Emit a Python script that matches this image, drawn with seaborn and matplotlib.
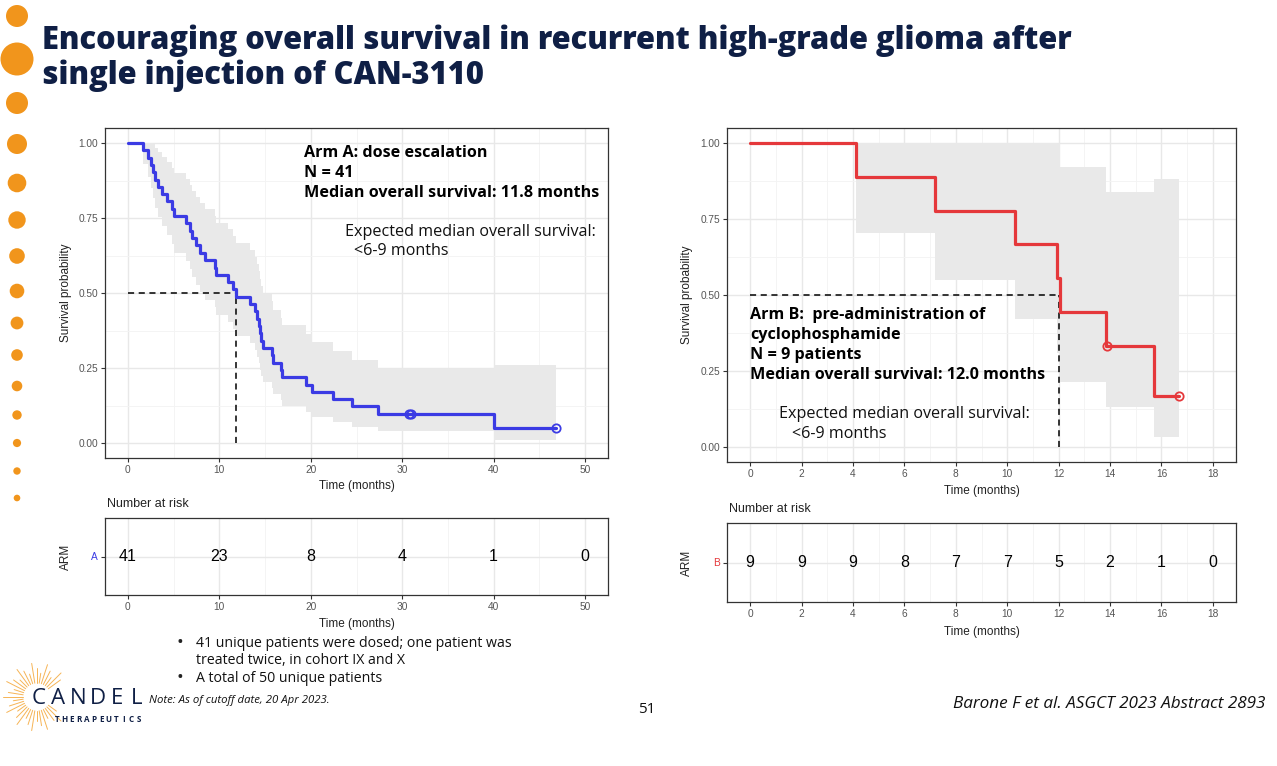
import matplotlib
matplotlib.use("Agg")
import matplotlib.pyplot as plt
import numpy as np
import pandas as pd
import seaborn as sns
from matplotlib.patches import Circle

# ---------------- data ----------------
arm_a_time = [0, 1.7, 2.2, 2.5, 2.8, 3.0, 3.3, 3.7, 4.3, 4.8,
              5.0, 6.4, 6.8, 7.0, 7.5, 7.9, 8.4, 9.5, 9.6, 10.9,
              11.5, 11.8, 13.4, 13.9, 14.1, 14.3, 14.4, 14.6, 14.8, 15.8,
              15.9, 16.7, 16.8, 19.5, 20.1, 22.4, 24.5, 27.3, 40.0, 46.8]
arm_a_surv = [1.000, .976, .951, .927, .902, .878, .854, .829, .805, .780,
              .756, .732, .707, .683, .659, .634, .610, .585, .561, .537,
              .512, .488, .463, .439, .415, .390, .366, .341, .317, .293,
              .268, .244, .220, .195, .171, .146, .122, .098, .049, .049]
arm_a_lower = [1.0, .930, .887, .850, .816, .783, .752, .722, .692, .664,
               .635, .608, .581, .554, .528, .503, .477, .452, .428, .404,
               .380, .357, .333, .311, .288, .266, .245, .223, .202, .182,
               .162, .142, .124, .105, .087, .070, .054, .039, .009, .009]
arm_a_upper = [1.0, 1.0, 1.0, 1.0, .998, .984, .969, .953, .936, .918,
               .900, .881, .861, .841, .821, .800, .779, .757, .735, .713,
               .690, .668, .644, .620, .597, .572, .548, .522, .497, .472,
               .444, .418, .392, .363, .336, .306, .277, .248, .260, .260]
arm_a_censor_time = [30.7, 31.0, 46.8]
arm_a_censor_surv = [.098, .098, .049]
arm_a_median = 11.8

arm_b_time = [0, 4.1, 7.2, 10.3, 11.95, 12.05, 13.85, 15.7, 16.7]
arm_b_surv = [1.0, .889, .778, .667, .556, .444, .333, .167, .167]
arm_b_lower = [1.0, .705, .549, .420, .310, .214, .132, .032, .032]
arm_b_upper = [1.0, 1.0, 1.0, 1.0, .997, .923, .840, .882, .882]
arm_b_censor_time = [13.9, 16.7]
arm_b_censor_surv = [.333, .167]
arm_b_median = 12.0

risk_a_time = [0, 10, 20, 30, 40, 50]
risk_a_n = [41, 23, 8, 4, 1, 0]
risk_b_time = [0, 2, 4, 6, 8, 10, 12, 14, 16, 18]
risk_b_n = [9, 9, 9, 8, 7, 7, 5, 2, 1, 0]

y_ticks = [0, 0.25, 0.5, 0.75, 1.0]
y_ticklabels = ["0.00", "0.25", "0.50", "0.75", "1.00"]

title_lines = ["Encouraging overall survival in recurrent high-grade glioma after",
               "single injection of CAN-3110"]
arm_a_text = ["Arm A: dose escalation", "N = 41", "Median overall survival: 11.8 months"]
arm_b_text = ["Arm B:  pre-administration of", "cyclophosphamide", "N = 9 patients",
              "Median overall survival: 12.0 months"]
expected_text = ["Expected median overall survival:", "<6-9 months"]
bullets = ["41 unique patients were dosed; one patient was", "treated twice, in cohort IX and X",
           "A total of 50 unique patients"]

# ---------------- style ----------------
sns.set_theme(style="white")
plt.rcParams['font.family'] = ['Liberation Sans', 'DejaVu Sans']

BLUE = "#3b3be4"
RED = "#e5383b"
BAND = "#e9e9e9"
NAVY = "#0f1f45"
ORANGE = "#f1951c"

W, H = 1277, 766
fig = plt.figure(figsize=(W / 100, H / 100), dpi=100)
fig.patch.set_facecolor("white")


def px_axes(l, t, r, b):
    return fig.add_axes([l / W, 1 - b / H, (r - l) / W, (b - t) / H])


def frame(ax):
    for s in ax.spines.values():
        s.set_visible(True)
        s.set_color("#333333")
        s.set_linewidth(0.9)
    ax.set_axisbelow(True)
    ax.grid(which="major", color="#e8e8e8", lw=1.0)
    ax.grid(which="minor", color="#f3f3f3", lw=0.6)
    ax.tick_params(which="major", length=3, width=0.8, color="#333333",
                   labelsize=7.3, labelcolor="#555555", pad=2)
    ax.tick_params(which="minor", length=0)
    ax.tick_params(axis="x", bottom=True)
    ax.tick_params(axis="y", left=True)


def km(ax, t, s, lo, hi, ct, cs, med, color, xmax, xstep):
    ax.fill_between(t, lo, hi, step="post", color=BAND, lw=0, zorder=1)
    df = pd.DataFrame({"time": t, "surv": s})
    sns.lineplot(data=df, x="time", y="surv", drawstyle="steps-post", estimator=None,
                 sort=False, color=color, lw=2.3, ax=ax, zorder=3)
    ax.plot(ct, cs, linestyle="none", marker="o", ms=6, mfc="none", mec=color, mew=1.3, zorder=4)
    ax.plot([0, med], [0.5, 0.5], color="black", lw=1.1, ls=(0, (4, 3)), zorder=2)
    ax.plot([med, med], [0, 0.5], color="black", lw=1.1, ls=(0, (4, 3)), zorder=2)
    pad = xmax * 0.05
    ax.set_xlim(-pad, xmax + pad)
    ax.set_ylim(-0.05, 1.05)
    ax.set_xticks(np.arange(0, xmax + 0.01, xstep))
    ax.set_xticks(np.arange(xstep / 2, xmax, xstep), minor=True)
    ax.set_yticks(y_ticks)
    ax.set_yticklabels(y_ticklabels)
    ax.set_yticks([0.125, 0.375, 0.625, 0.875], minor=True)
    frame(ax)
    ax.set_xlabel("Time (months)", fontsize=8.5, color="#222222")
    ax.set_ylabel("Survival probability", fontsize=8.5, color="#222222")
    ax.xaxis.set_label_coords(0.5, -0.068)
    ax.yaxis.set_label_coords(-0.066, 0.5)


def risk(ax, t, n, label, color, xmax, xstep):
    for ti, ni in zip(t, n):
        ax.text(ti, 0, str(ni), ha="center", va="center", fontsize=11.5, color="black")
    pad = xmax * 0.05
    ax.set_xlim(-pad, xmax + pad)
    ax.set_ylim(-1, 1)
    ax.set_xticks(np.arange(0, xmax + 0.01, xstep))
    ax.set_xticks(np.arange(xstep / 2, xmax, xstep), minor=True)
    ax.set_yticks([0])
    ax.set_yticklabels([label])
    frame(ax)
    ax.get_yticklabels()[0].set_color(color)
    ax.set_xlabel("Time (months)", fontsize=8.5, color="#222222")
    ax.set_ylabel("ARM", fontsize=8.5, color="#222222")
    ax.xaxis.set_label_coords(0.5, -0.30)
    ax.yaxis.set_label_coords(-0.066, 0.5)
    ax.text(0.004, 1.18, "Number at risk", transform=ax.transAxes, fontsize=9,
            ha="left", va="center", color="#222222")


axA = px_axes(105, 128, 608, 458)
km(axA, arm_a_time, arm_a_surv, arm_a_lower, arm_a_upper, arm_a_censor_time,
   arm_a_censor_surv, arm_a_median, BLUE, 50, 10)
axRA = px_axes(105, 518, 608, 595)
risk(axRA, risk_a_time, risk_a_n, "A", BLUE, 50, 10)

axB = px_axes(727, 128, 1236, 462)
km(axB, arm_b_time, arm_b_surv, arm_b_lower, arm_b_upper, arm_b_censor_time,
   arm_b_censor_surv, arm_b_median, RED, 18, 2)
axRB = px_axes(727, 523, 1236, 602)
risk(axRB, risk_b_time, risk_b_n, "B", RED, 18, 2)

# ---------------- overlay for slide-level text / decoration (pixel coords) ----------------
ov = fig.add_axes([0, 0, 1, 1], zorder=10)
ov.set_xlim(0, W)
ov.set_ylim(H, 0)
ov.axis("off")
ov.patch.set_alpha(0)

SL = ["Open Sans", "DejaVu Sans"]

# orange dots
dot_y = [16, 59, 103, 144, 183, 220, 256, 291, 323, 355, 386, 415, 443, 471, 498]
dot_r = [11, 16.5, 11, 10, 9.3, 8.7, 7.8, 7.3, 6.4, 5.8, 5.3, 4.7, 4.1, 3.7, 3.3]
for yy, rr in zip(dot_y, dot_r):
    ov.add_patch(Circle((17, yy), rr, color=ORANGE, lw=0))

# title
ov.text(42, 49, title_lines[0], fontsize=22.2, fontweight="heavy", color=NAVY, family=SL, va="baseline")
ov.text(42, 84, title_lines[1], fontsize=22.2, fontweight="heavy", color=NAVY, family=SL, va="baseline")

# panel annotations
for i, line in enumerate(arm_a_text):
    ov.text(304, 157 + 20 * i, line, fontsize=11.6, fontweight="bold", color="black", family=SL, va="baseline")
ov.text(345, 236, expected_text[0], fontsize=11.6, color="#111111", family=SL, va="baseline")
ov.text(354, 255, expected_text[1], fontsize=11.6, color="#111111", family=SL, va="baseline")

for i, line in enumerate(arm_b_text):
    ov.text(750, 319 + 20 * i, line, fontsize=11.6, fontweight="bold", color="black", family=SL, va="baseline")
ov.text(779, 418, expected_text[0], fontsize=11.6, color="#111111", family=SL, va="baseline")
ov.text(792, 437.5, expected_text[1], fontsize=11.6, color="#111111", family=SL, va="baseline")

# bullets
ov.text(176, 648, "\u2022", fontsize=13, color="#222222", family=SL, va="baseline")
ov.text(196, 647, bullets[0], fontsize=10.2, color="#111111", family=SL, va="baseline")
ov.text(196, 664, bullets[1], fontsize=10.2, color="#111111", family=SL, va="baseline")
ov.text(176, 683, "\u2022", fontsize=13, color="#222222", family=SL, va="baseline")
ov.text(196, 682, bullets[2], fontsize=10.2, color="#111111", family=SL, va="baseline")

ov.text(149, 703, "Note: As of cutoff date, 20 Apr 2023.", fontsize=8.2, style="italic",
        color="#111111", family=SL, va="baseline")
ov.text(647, 713, "51", fontsize=11, color="#111111", family=SL, va="baseline", ha="center")
ov.text(1265, 708, "Barone F et al. ASGCT 2023 Abstract 2893", fontsize=12.3, style="italic",
        color="#111111", family=SL, va="baseline", ha="right")

# logo
cx, cy = 37, 697
for ang in np.arange(0, 360, 9):
    a = np.deg2rad(ang)
    if -35 < ((ang + 180) % 360) - 180 < 35:
        continue
    r0, r1 = 14, 24 + 5 * ((ang // 9) % 3)
    ov.plot([cx + r0 * np.cos(a), cx + r1 * np.cos(a)],
            [cy - r0 * np.sin(a), cy - r1 * np.sin(a)], color="#f6b456", lw=0.7)
for i, ch in enumerate("CANDEL"):
    ov.text(39 + i * 19.5, 704, ch, fontsize=16, fontweight="medium", color=NAVY, family=SL,
            va="baseline", ha="center")
for i, ch in enumerate("THERAPEUTICS"):
    ov.text(57 + i * 7.4, 722, ch, fontsize=5.8, fontweight="bold", color=NAVY, family=SL,
            va="baseline", ha="center")

fig.savefig("out.png", dpi=100, facecolor="white")
